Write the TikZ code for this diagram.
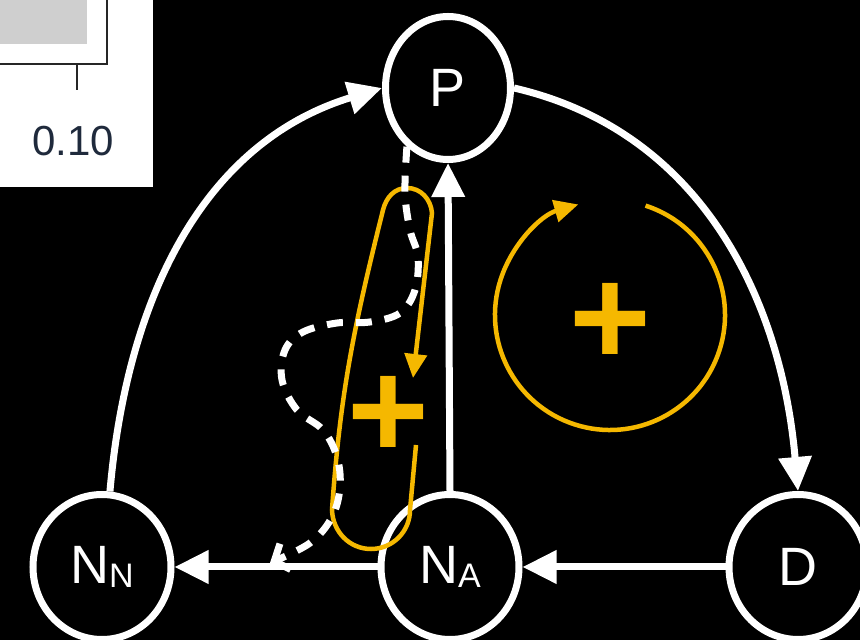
\documentclass[tikz,border=0pt]{standalone}
\usepackage{fontspec}
\setmainfont{Liberation Sans}
\usetikzlibrary{arrows.meta,shapes.geometric}
\definecolor{loopor}{HTML}{F5B800}
\definecolor{axisgray}{HTML}{CFCFCF}
\definecolor{axisdark}{HTML}{262626}
\definecolor{ticknavy}{HTML}{1F2A3C}
\tikzset{
  statenode/.style={ellipse,draw=white,line width=7pt,fill=black,text=white,inner sep=0pt,font=\fontsize{54}{54}\selectfont},
  bigstate/.style={statenode,minimum width=138pt,minimum height=145pt},
  edge/.style={-{Triangle[length=34pt,width=32pt]},draw=white,line width=7pt},
  dashedge/.style={-{Straight Barb[length=12pt,width=28pt]},draw=white,line width=7pt,dash pattern=on 16pt off 13pt},
  loopedge/.style={-{Triangle[length=24pt,width=22pt]},draw=loopor,line width=4.5pt},
  sign/.style={text=loopor,font=\bfseries\fontsize{140}{140}\selectfont,inner sep=0pt},
  axisline/.style={draw=axisdark,line width=2pt},
  ticklbl/.style={text=ticknavy,inner sep=0pt,font=\fontsize{42}{42}\selectfont},
}
\newcommand{\sublbl}[2]{#1{\fontsize{34}{34}\selectfont\raisebox{-4pt}{#2}}}
\begin{document}
\begin{tikzpicture}[x=1pt,y=1pt]
% frame and background
\useasboundingbox (0,0) rectangle (860,640);
\fill[black] (0,0) rectangle (860,640);
% cropped plot panel
\fill[white] (0,453) rectangle (153,640);
\fill[axisgray] (0,596) rectangle (87,640);
\draw[axisline] (0,576) -- (107,576) -- (107,640);
\draw[axisline] (77,576) -- (77,550);
\node[ticklbl] (tick) at (73,499) {0.10};
% states
\node[statenode,minimum width=125pt,minimum height=143pt] (P) at (448,552) {P};
\node[bigstate] (NN) at (102,73) {\sublbl{N}{N}};
\node[bigstate] (NA) at (450,73) {\sublbl{N}{A}};
\node[bigstate] (D) at (798,73) {D};
% transitions
\draw[edge] (NN.84) to[out=85,in=197] (P.west);
\draw[edge] (P.east) to[out=-13,in=95] (D.north);
\draw[edge] (NA.north) -- (P.south);
\draw[edge] (D.west) -- (NA.east);
\draw[edge] (NA.west) -- (NN.east);
% positive loops
\node[sign] (plusL) at (388,223) {+};
\node[sign] (plusR) at (610,316) {+};
\draw[loopedge] (416,195) -- (410,130) to[out=-90,in=0] (371,91) to[out=180,in=-88] (332,130)
  to[out=86,in=-104] (383,430) to[out=76,in=180] (407,452) to[out=0,in=95] (432,427) -- (413,262);
\coordinate (cyc) at (610,325);
\draw[loopedge] (cyc) ++(72:115) arc[start angle=72,end angle=-254,radius=115];
% detour path
\coordinate (dashend) at (270,77);
\draw[dashedge] plot[smooth,tension=0.6] coordinates {(P.235) (405,447) (410,410) (418,383) (415,350) (400,327) (370,318) (337,317) (303,308) (285,290) (282,260) (297,230) (323,210) (337,183) (340,153) (332,123) (310,97) (dashend)};
\end{tikzpicture}
\end{document}
